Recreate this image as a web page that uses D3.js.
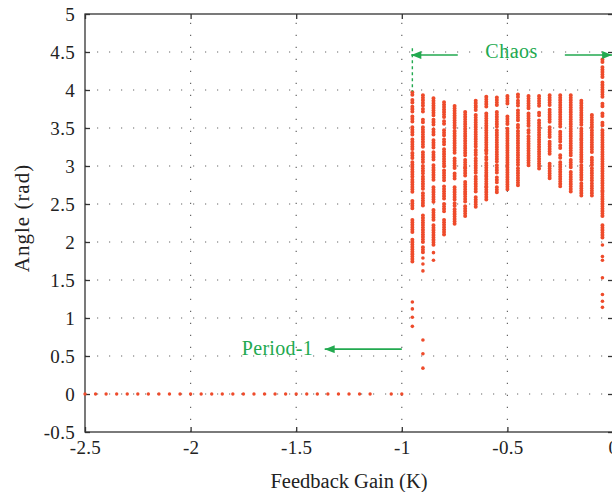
<!DOCTYPE html>
<html>
<head>
<meta charset="utf-8">
<script src="https://cdn.jsdelivr.net/npm/d3@7"></script>
<style>
  html, body { margin: 0; padding: 0; background: #fff; }
  svg { display: block; font-family: "Liberation Serif", "Times New Roman", serif; }
</style>
</head>
<body>
<div id="chart"></div>
<script>
// axis ticks
const xTicks = [-2.5, -2, -1.5, -1, -0.5, 0];
const yTicks = [-0.5, 0, 0.5, 1, 1.5, 2, 2.5, 3, 3.5, 4, 4.5, 5];

// period-1 region (angle stays at 0)
const periodGain = [-2.5, -2.45, -2.4, -2.35, -2.3, -2.25, -2.2, -2.15, -2.1, -2.05,
    -2, -1.95, -1.9, -1.85, -1.8, -1.75, -1.7, -1.65, -1.6, -1.55,
    -1.5, -1.45, -1.4, -1.35, -1.3, -1.25, -1.2, -1.15, -1.05, -1];
const periodAngle = [0, 0, 0, 0, 0, 0, 0, 0, 0, 0,
    0, 0, 0, 0, 0, 0, 0, 0, 0, 0,
    0, 0, 0, 0, 0, 0, 0, 0, 0, 0];

// chaos region: one column per gain value
const chaosGain = [-0.95, -0.9, -0.85, -0.8, -0.75, -0.7, -0.65, -0.6, -0.55, -0.5,
    -0.45, -0.4, -0.35, -0.3, -0.25, -0.2, -0.15, -0.1, -0.05];

// dense runs of points in each column, [top, bottom]
const chaosBands = [
    [[3.97, 3.91], [3.87, 3.83], [3.78, 3.70], [3.65, 3.58], [3.51, 3.40], [3.35, 3.21], [3.17, 3.08], [3.05, 2.86], [2.82, 2.66], [2.54, 2.42], [2.29, 2.13], [2.03, 1.72]],
    [[3.93, 3.86], [3.83, 3.79], [3.75, 3.69], [3.61, 3.55], [3.51, 3.38], [3.35, 3.23], [3.18, 3.05], [3.00, 2.90], [2.86, 2.68], [2.64, 2.46], [2.35, 2.00], [1.93, 1.85]],
    [[3.89, 3.64], [3.61, 3.54], [3.48, 3.40], [3.34, 3.24], [3.18, 3.08], [3.01, 2.81], [2.72, 2.53], [2.42, 2.29], [2.22, 2.09], [2.06, 1.94]],
    [[3.84, 3.73], [3.71, 3.62], [3.59, 3.54], [3.47, 3.40], [3.35, 3.27], [3.22, 2.97], [2.94, 2.79], [2.73, 2.57], [2.50, 2.38], [2.29, 2.09]],
    [[3.79, 3.49], [3.46, 3.15], [3.10, 2.97], [2.90, 2.81], [2.72, 2.56], [2.51, 2.46], [2.43, 2.21]],
    [[3.71, 3.14], [3.08, 2.98], [2.97, 2.86], [2.79, 2.66], [2.63, 2.51], [2.47, 2.33]],
    [[3.86, 3.79], [3.77, 3.72], [3.67, 3.25], [3.21, 3.14], [3.10, 2.91], [2.86, 2.76], [2.73, 2.64], [2.59, 2.44]],
    [[3.91, 3.78], [3.69, 3.21], [3.20, 3.15], [3.12, 3.07], [3.04, 2.88], [2.86, 2.72], [2.72, 2.54]],
    [[3.90, 3.80], [3.71, 3.52], [3.47, 3.05], [3.01, 2.90], [2.85, 2.77], [2.72, 2.63]],
    [[3.92, 3.80], [3.65, 3.54], [3.49, 2.99], [2.98, 2.81], [2.79, 2.69]],
    [[3.94, 3.89], [3.86, 3.78], [3.73, 3.58], [3.54, 3.48], [3.46, 3.01], [2.97, 2.72]],
    [[3.92, 3.76], [3.69, 3.51], [3.47, 3.42], [3.39, 2.99]],
    [[3.92, 3.77], [3.70, 3.64], [3.60, 2.94]],
    [[3.93, 3.80], [3.74, 3.58], [3.51, 3.36], [3.32, 3.14], [3.03, 2.82]],
    [[3.93, 3.49], [3.45, 3.32], [3.27, 3.21], [3.14, 3.08], [3.05, 2.72]],
    [[3.93, 3.14], [3.08, 2.98], [2.92, 2.66]],
    [[3.86, 3.54], [3.49, 3.36], [3.34, 3.03], [3.01, 2.79], [2.77, 2.61]],
    [[3.67, 3.49], [3.47, 3.16], [3.11, 2.99], [2.97, 2.79], [2.77, 2.61]],
    [[4.40, 4.35], [4.30, 4.15], [4.10, 3.91], [3.82, 3.77], [3.69, 3.64], [3.57, 3.51], [3.47, 2.68], [2.66, 2.33], [2.22, 2.04]]
];

// isolated points below the dense runs
const chaosPoints = [
    [1.21, 1.12, 1.01, 0.89],
    [1.79, 1.71, 1.62, 0.71, 0.53, 0.34],
    [1.86, 1.76],
    [], [], [], [], [], [], [], [], [], [], [], [], [], [], [],
    [1.96, 1.81, 1.76, 1.53, 1.31, 1.22, 1.14]
];

const width = 612;
const height = 492;
const margin = { top: 14, right: -1, bottom: 60, left: 85 };
const red = "#ee4b2b";
const green = "#22a94f";

const svg = d3.select("#chart")
    .append("svg")
    .attr("width", width)
    .attr("height", height);

const x = d3.scaleLinear().domain([-2.5, 0]).range([margin.left, width - margin.right]);
const y = d3.scaleLinear().domain([-0.5, 5]).range([height - margin.bottom, margin.top]);

const x0 = x.range()[0], x1 = x.range()[1];
const y0 = y.range()[0], y1 = y.range()[1];

// dotted grid
const grid = svg.append("g")
    .attr("stroke", "#666")
    .attr("stroke-width", 1.2)
    .attr("stroke-dasharray", "1.2,10.8");

grid.selectAll(".gx")
    .data(xTicks.slice(1, -1))
    .enter()
    .append("line")
    .attr("x1", d => x(d)).attr("x2", d => x(d))
    .attr("y1", y0).attr("y2", y1);

grid.selectAll(".gy")
    .data(yTicks.slice(1, -1))
    .enter()
    .append("line")
    .attr("x1", x0).attr("x2", x1)
    .attr("y1", d => y(d)).attr("y2", d => y(d));

// axes with inward ticks
const tickLen = 5;
const fmt = d => String(d);
svg.append("g")
    .attr("transform", `translate(0,${y0})`)
    .call(d3.axisBottom(x).tickValues(xTicks).tickSizeInner(-tickLen).tickSizeOuter(0).tickPadding(9).tickFormat(fmt))
    .call(g => g.select(".domain").remove());

svg.append("g")
    .attr("transform", `translate(${x0},0)`)
    .call(d3.axisLeft(y).tickValues(yTicks).tickSizeInner(-tickLen).tickSizeOuter(0).tickPadding(10).tickFormat(fmt))
    .call(g => g.select(".domain").remove());

svg.append("g")
    .attr("transform", `translate(0,${y1})`)
    .call(d3.axisTop(x).tickValues(xTicks).tickSizeInner(-tickLen).tickSizeOuter(0).tickFormat(""))
    .call(g => g.select(".domain").remove());

svg.append("g")
    .attr("transform", `translate(${x1},0)`)
    .call(d3.axisRight(y).tickValues(yTicks).tickSizeInner(-tickLen).tickSizeOuter(0).tickFormat(""))
    .call(g => g.select(".domain").remove());

svg.selectAll(".tick line").attr("stroke", "#333").attr("stroke-width", 1.3);
svg.selectAll(".tick text")
    .attr("fill", "#222")
    .style("font-size", "19px")
    .style("letter-spacing", "0.3px")
    .style("font-family", "'Liberation Serif', serif");

// frame
svg.append("rect")
    .attr("x", x0).attr("y", y1)
    .attr("width", x1 - x0).attr("height", y0 - y1)
    .attr("fill", "none")
    .attr("stroke", "#333")
    .attr("stroke-width", 1.3);

// axis titles
svg.append("text")
    .attr("x", (x0 + x1) / 2)
    .attr("y", 488)
    .attr("text-anchor", "middle")
    .attr("fill", "#222")
    .style("font-size", "20.5px")
    .text("Feedback Gain (K)");

svg.append("text")
    .attr("transform", `translate(29,${(y0 + y1) / 2 - 5}) rotate(-90)`)
    .attr("text-anchor", "middle")
    .attr("fill", "#222")
    .style("font-size", "21px")
    .style("letter-spacing", "1px")
    .text("Angle (rad)");

// period-1 points
svg.append("g")
    .selectAll("circle")
    .data(periodGain)
    .enter()
    .append("circle")
    .attr("cx", d => x(d))
    .attr("cy", (d, i) => y(periodAngle[i]))
    .attr("r", 1.7)
    .attr("fill", red);

// chaos columns, drawn as chains of dots
const cols = svg.append("g");
chaosGain.forEach((k, i) => {
    cols.selectAll(null)
        .data(chaosBands[i])
        .enter()
        .append("line")
        .attr("x1", x(k)).attr("x2", x(k))
        .attr("y1", d => y(d[0])).attr("y2", d => y(d[1]))
        .attr("stroke", red)
        .attr("stroke-width", 4)
        .attr("stroke-linecap", "round")
        .attr("stroke-dasharray", "0.1,2.3");

    cols.selectAll(null)
        .data(chaosPoints[i])
        .enter()
        .append("circle")
        .attr("cx", x(k))
        .attr("cy", d => y(d))
        .attr("r", 1.8)
        .attr("fill", red);
});

// annotations
const defs = svg.append("defs");
defs.append("marker")
    .attr("id", "arrow")
    .attr("viewBox", "0 0 10 8")
    .attr("refX", 10).attr("refY", 4)
    .attr("markerWidth", 11).attr("markerHeight", 8)
    .attr("markerUnits", "userSpaceOnUse")
    .attr("orient", "auto")
    .append("path")
    .attr("d", "M0,0 L10,4 L0,8 Z")
    .attr("fill", green);

function arrow(k1, k2, a) {
    svg.append("line")
        .attr("x1", x(k1)).attr("x2", x(k2))
        .attr("y1", y(a)).attr("y2", y(a))
        .attr("stroke", green)
        .attr("stroke-width", 1.6)
        .attr("marker-end", "url(#arrow)");
}

// chaos
arrow(-0.735, -0.955, 4.46);
arrow(-0.228, -0.004, 4.46);
svg.append("line")
    .attr("x1", x(-0.95)).attr("x2", x(-0.95))
    .attr("y1", y(4.55)).attr("y2", y(3.98))
    .attr("stroke", green)
    .attr("stroke-width", 1.4)
    .attr("stroke-dasharray", "3,3");
svg.append("text")
    .attr("x", x(-0.48))
    .attr("y", y(4.45) + 2)
    .attr("text-anchor", "middle")
    .attr("fill", green)
    .style("font-size", "20px")
    .style("letter-spacing", "0.5px")
    .text("Chaos");

// period-1
arrow(-1.0, -1.365, 0.59);
svg.append("text")
    .attr("x", x(-1.42))
    .attr("y", y(0.59) + 6)
    .attr("text-anchor", "end")
    .attr("fill", green)
    .style("font-size", "20px")
    .style("letter-spacing", "0.3px")
    .text("Period-1");
</script>
</body>
</html>
